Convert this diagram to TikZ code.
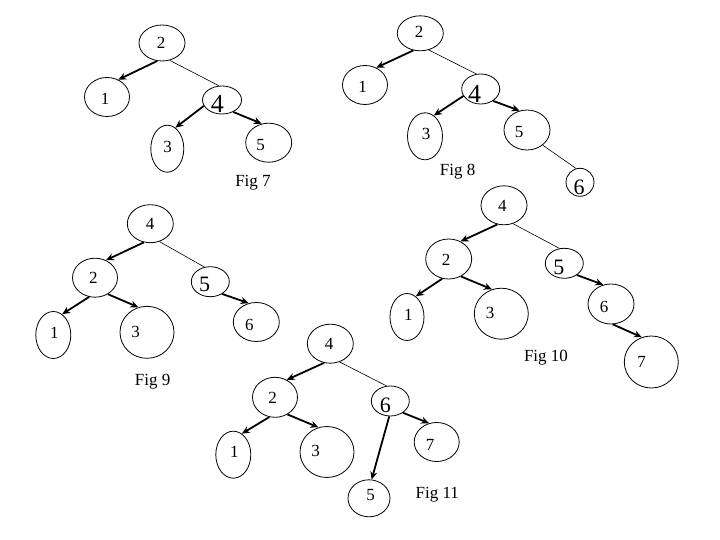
\documentclass[tikz,border=0pt]{standalone}
\usepackage{fontspec}
\setmainfont{Liberation Serif}
\usetikzlibrary{shapes.geometric,arrows.meta}
\tikzset{
  ell/.style={draw, ellipse, inner sep=0pt, line width=0.8pt},
  dig/.style={inner sep=0pt, font=\fontsize{17}{17}\selectfont},
  big/.style={inner sep=0pt, font=\fontsize{26}{26}\selectfont},
  mid/.style={inner sep=0pt, font=\fontsize{22}{22}\selectfont},
  figlab/.style={inner sep=0pt, font=\fontsize{17}{17}\selectfont},
  arr/.style={line width=1.8pt, -{Stealth[length=8pt,width=7pt]}},
  thin/.style={line width=0.6pt},
}
\newcommand{\E}[5]{\node[ell, minimum width=#3pt, minimum height=#4pt] (#5) at (#1,#2) {};}
\begin{document}
\begin{tikzpicture}[x=1pt,y=-1pt]
\useasboundingbox (0,0) rectangle (720,540);
% ---------- Fig 7
\E{162}{43}{46}{36}{a2}
\E{107}{97}{45}{39}{a1}
\E{222}{100}{39}{28}{a4}
\E{167.3}{148.7}{33}{47}{a3}
\E{268.7}{142.7}{46}{39}{a5}
\node[dig] (ta2) at (161,43) {2};
\node[dig] (ta1) at (105,99) {1};
\node[big] (ta4) at (217.3,103.5) {4};
\node[dig] (ta3) at (167.5,147) {3};
\node[dig] (ta5) at (260.7,145.5) {5};
\node[figlab] (fa) at (253,183) {Fig 7};
\draw[arr] (a2.255) -- (a1.57);
\draw[thin] (a2.294) -- (a4.102);
\draw[arr] (a4.198) -- (a3.69);
\draw[arr] (a4.313) -- (a5.110);
% ---------- Fig 8
\E{420.3}{33.3}{46}{35}{b2}
\E{365}{85}{45}{39}{b1}
\E{480.7}{89}{38}{30}{b4}
\E{425}{136.3}{35}{47}{b3}
\E{527}{130}{46}{40}{b5}
\E{580}{182.3}{28}{28}{b6}
\node[dig] (tb2) at (419,32) {2};
\node[dig] (tb1) at (362.7,87.3) {1};
\node[big] (tb4) at (474.7,93.7) {4};
\node[dig] (tb3) at (426,134.3) {3};
\node[dig] (tb5) at (519,132.5) {5};
\node[mid] (tb6) at (579,187) {6};
\node[figlab] (fb) at (457.7,171.7) {Fig 8};
\draw[arr] (b2.248) -- (b1.57);
\draw[thin] (b2.297) -- (b4.106);
\draw[arr] (b4.202) -- (b3.67);
\draw[arr] (b4.316) -- (b5.111);
\draw[thin] (b5.316) -- (b6.106);
% ---------- Fig 9
\E{150.3}{223.7}{46}{38}{c4}
\E{95}{277.7}{45}{39}{c2}
\E{210.3}{281.7}{38}{30}{c5}
\E{53.3}{335}{35}{47}{c1}
\E{147}{332.3}{54}{52}{c3}
\E{256.3}{322}{46}{39}{c6}
\node[dig] (tc4) at (150,224.3) {4};
\node[dig] (tc2) at (93.3,278.3) {2};
\node[mid] (tc5) at (204.7,284.5) {5};
\node[dig] (tc1) at (54.3,332.7) {1};
\node[dig] (tc3) at (135.7,331.7) {3};
\node[dig] (tc6) at (249.3,325) {6};
\node[figlab] (fc) at (152.7,381.7) {Fig 9};
\draw[arr] (c4.251) -- (c2.58);
\draw[thin] (c4.297) -- (c5.112);
\draw[arr] (c2.253) -- (c1.67);
\draw[arr] (c2.308) -- (c3.109);
\draw[arr] (c5.314) -- (c6.112);
% ---------- Fig 10
\E{504}{205.3}{46}{39}{d4}
\E{448.7}{259}{46}{40}{d2}
\E{564.3}{263.3}{38}{30}{d5}
\E{407}{317}{34}{47}{d1}
\E{501.3}{313.7}{54}{51}{d3}
\E{611}{304}{46}{40}{d6}
\E{651.3}{362}{54}{52}{d7}
\node[dig] (td4) at (502.3,206) {4};
\node[dig] (td2) at (446,260) {2};
\node[mid] (td5) at (558.8,267.8) {5};
\node[dig] (td1) at (408.3,315) {1};
\node[dig] (td3) at (490,313.3) {3};
\node[dig] (td6) at (604,307.3) {6};
\node[dig] (td7) at (641.7,361.7) {7};
\node[figlab] (fd) at (546,357.7) {Fig 10};
\draw[arr] (d4.251) -- (d2.56);
\draw[thin] (d4.296) -- (d5.108);
\draw[arr] (d2.252) -- (d1.67);
\draw[arr] (d2.305) -- (d3.111);
\draw[arr] (d5.317) -- (d6.112);
\draw[arr] (d6.275) -- (d7.111);
% ---------- Fig 11
\E{330.3}{343.7}{46}{39}{e4}
\E{275}{397.3}{45}{40}{e2}
\E{390.3}{401}{38}{30}{e6}
\E{233.3}{454.7}{35}{47}{e1}
\E{327}{452}{54}{51}{e3}
\E{436.7}{442}{45}{39}{e7}
\E{369}{498.3}{42}{37}{e5}
\node[dig] (te4) at (329,344.3) {4};
\node[dig] (te2) at (272.7,398.3) {2};
\node[mid] (te6) at (385.3,405.5) {6};
\node[dig] (te1) at (234.3,452.3) {1};
\node[dig] (te3) at (315.7,451) {3};
\node[dig] (te7) at (430,445) {7};
\node[dig] (te5) at (370.7,495) {5};
\node[figlab] (fe) at (437.3,495) {Fig 11};
\draw[arr] (e4.252) -- (e2.56);
\draw[thin] (e4.297) -- (e6.104);
\draw[arr] (e2.254) -- (e1.68);
\draw[arr] (e2.306) -- (e3.109);
\draw[arr] (e6.266) -- (e5.82);
\draw[arr] (e6.317) -- (e7.112);
\end{tikzpicture}
\end{document}
